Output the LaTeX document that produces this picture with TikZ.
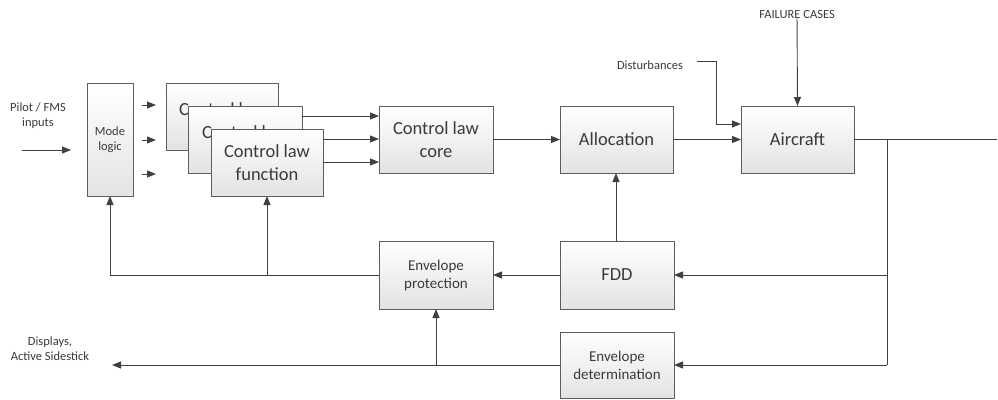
\documentclass[tikz,border=0pt]{standalone}
\usepackage{fontspec}
\setmainfont{Carlito}
\usetikzlibrary{arrows.meta}
\definecolor{ln}{HTML}{404040}
\definecolor{tx}{HTML}{3A3A3A}
\tikzset{
  blk/.style={draw=ln!85, line width=0.9pt, top color=white, bottom color=black!11,
    anchor=north west, inner sep=0pt, outer sep=0pt, align=center, text=tx},
  big/.style={font=\fontsize{18.5}{22.5}\selectfont},
  mid/.style={font=\fontsize{15}{18}\selectfont},
  sml/.style={font=\fontsize{12.5}{15}\selectfont, text=tx, align=center, inner sep=0pt},
  con/.style={draw=ln, line width=0.9pt},
  arr/.style={con, -{Triangle[length=9pt,width=7pt]}},
}
\begin{document}
\begin{tikzpicture}[x=1pt,y=-1pt]
\useasboundingbox (0,0) rectangle (998,399);
% boxes
\node[blk, mid, minimum width=46pt, minimum height=113pt, font=\fontsize{12.5}{15}\selectfont] (mode) at (87,83) {Mode\\logic};
\node[blk, big, minimum width=112pt, minimum height=67pt] (cl1) at (166,83) {Control law\\[-8pt]\phantom{function}};
\node[blk, big, minimum width=114pt, minimum height=67pt] (cl2) at (188,106) {Control law\\[-8pt]\phantom{function}};
\node[blk, big, minimum width=112pt, minimum height=67pt] (cl3) at (211,129) {Control law\\function};
\node[blk, big, minimum width=114pt, minimum height=67pt] (core) at (379,106) {Control law\\core};
\node[blk, big, minimum width=113pt, minimum height=67pt] (alloc) at (560,106) {Allocation};
\node[blk, big, minimum width=113pt, minimum height=67pt] (air) at (741,106) {Aircraft};
\node[blk, big, minimum width=114pt, minimum height=68pt] (fdd) at (560,241) {FDD};
\node[blk, mid, minimum width=114pt, minimum height=68pt] (prot) at (379,241) {Envelope\\protection};
\node[blk, mid, minimum width=114pt, minimum height=66pt] (det) at (560,332) {Envelope\\determination};
% texts
\node[sml] (pilot) at (38,116) {Pilot / FMS\\inputs};
\node[sml] (dist) at (650,65) {Disturbances};
\node[sml] (fail) at (797,14) {FAILURE CASES};
\node[sml] (disp) at (50,349) {Displays,\\Active Sidestick};
% coordinates
\coordinate (in0) at (22,150);
\coordinate (in1) at (71,150);
\foreach \i/\y in {a/105,b/140,c/174}{
  \coordinate (s\i0) at (142,\y);
  \coordinate (s\i1) at (156,\y);
}
\coordinate (d0) at (697,61);
\coordinate (d1) at (716,124);
\coordinate (out) at (997,139.5);
\coordinate (br) at (887,139.5);
\coordinate (brb) at (887,365);
\coordinate (dispend) at (112,365);
% connectors
\draw[arr] (in0) -- (in1);
\foreach \i in {a,b,c}{\draw[arr] (s\i0) -- (s\i1);}
\draw[arr] (cl2.east |- 0,116) -- (core.west |- 0,116);
\draw[arr] (cl3.east |- 0,139) -- (core.west |- 0,139);
\draw[arr] (cl3.east |- 0,162) -- (core.west |- 0,162);
\draw[arr] (core) -- (alloc);
\draw[arr] (alloc) -- (air);
\draw[arr] (d0) -| (d1) -- (air.west |- d1);
\draw[arr] (fail) -- (air.north);
\draw[con] (air.east) -- (out);
\draw[con] (br) -- (brb);
\draw[arr] (fdd.east -| br) -- (fdd.east);
\draw[arr] (brb) -- (det.east |- brb);
\draw[arr] (fdd.north -| 616,0) -- (alloc.south -| 616,0);
\draw[arr] (fdd.west) -- (prot.east);
\draw[arr] (prot.west) -| (mode.south);
\draw[arr] (cl3.south |- prot.west) -- (cl3.south);
\draw[arr] (det.west |- brb) -- (dispend);
\draw[arr] (prot.south |- brb) -- (prot.south);
\end{tikzpicture}
\end{document}
